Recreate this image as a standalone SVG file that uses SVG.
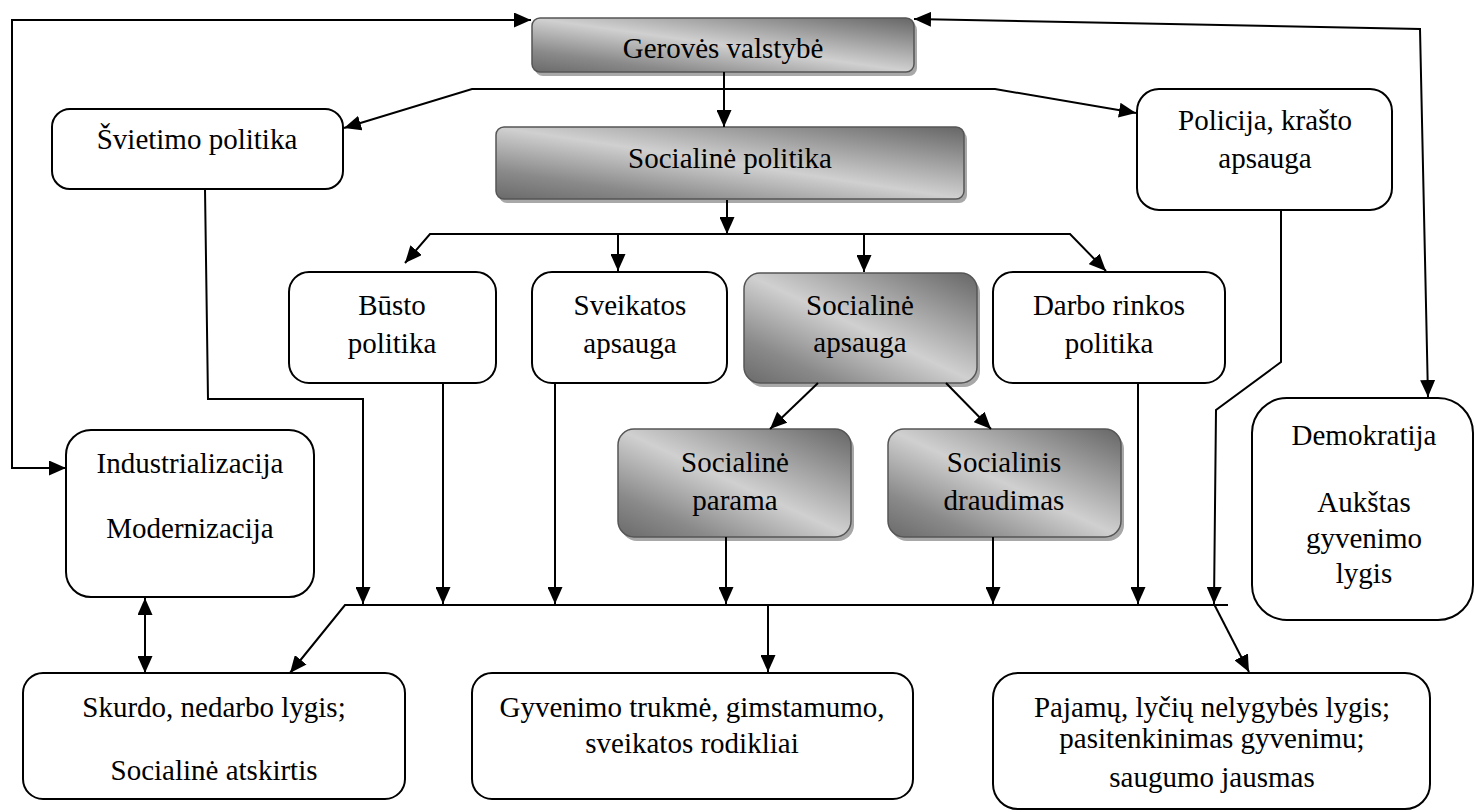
<svg xmlns="http://www.w3.org/2000/svg" width="1475" height="812" viewBox="0 0 1475 812">
<style>
.box{fill:#fff;stroke:#000;stroke-width:2}
.gbox{fill:url(#g);stroke:#555;stroke-width:1.5}
.sh{fill:#a8a8a8}
.c path{fill:none;stroke:#000;stroke-width:2}
text{font-family:"Times New Roman","Liberation Serif",serif;font-size:29px;text-anchor:middle;fill:#000}
</style>
<defs>
<linearGradient id="g" x1="1" y1="0" x2="0" y2="1">
<stop offset="0" stop-color="#666"/>
<stop offset="0.5" stop-color="#d0d0d0"/>
<stop offset="0.8" stop-color="#8a8a8a"/>
<stop offset="1" stop-color="#6a6a6a"/>
</linearGradient>
<marker id="a" viewBox="0 0 17 15" refX="17" refY="7.5" markerWidth="17" markerHeight="15" orient="auto-start-reverse" markerUnits="userSpaceOnUse">
<path d="M0,0 L17,7.5 L0,15 z" fill="#000"/>
</marker>
</defs>

<g id="gerove">
<rect class="sh" x="535" y="22" width="382" height="54" rx="8"/>
<rect class="gbox" x="532" y="18" width="382" height="54" rx="8"/>
<text x="723" y="58">Gerovės valstybė</text>
</g>
<g id="svietimo">
<rect class="box" x="52" y="109" width="291" height="80" rx="18"/>
<text x="197" y="149">Švietimo politika</text>
</g>
<g id="socpol">
<rect class="sh" x="499" y="131" width="468" height="72" rx="8"/>
<rect class="gbox" x="496" y="127" width="468" height="72" rx="8"/>
<text x="730" y="168">Socialinė politika</text>
</g>
<g id="policija">
<rect class="box" x="1137" y="89" width="255" height="121" rx="22"/>
<text x="1265" y="130">Policija, krašto</text>
<text x="1265" y="168">apsauga</text>
</g>
<g id="busto">
<rect class="box" x="289" y="272" width="207" height="111" rx="20"/>
<text x="392" y="315">Būsto</text>
<text x="392" y="353">politika</text>
</g>
<g id="sveikatos">
<rect class="box" x="532" y="272" width="195" height="111" rx="20"/>
<text x="630" y="315">Sveikatos</text>
<text x="630" y="353">apsauga</text>
</g>
<g id="socaps">
<rect class="sh" x="747" y="277" width="233" height="110" rx="16"/>
<rect class="gbox" x="744" y="273" width="233" height="110" rx="16"/>
<text x="860" y="315">Socialinė</text>
<text x="860" y="352">apsauga</text>
</g>
<g id="darbo">
<rect class="box" x="993" y="272" width="232" height="111" rx="20"/>
<text x="1109" y="315">Darbo rinkos</text>
<text x="1109" y="353">politika</text>
</g>
<g id="parama">
<rect class="sh" x="621" y="433" width="233" height="108" rx="16"/>
<rect class="gbox" x="618" y="429" width="233" height="108" rx="16"/>
<text x="735" y="472">Socialinė</text>
<text x="735" y="510">parama</text>
</g>
<g id="draudimas">
<rect class="sh" x="891" y="433" width="233" height="108" rx="16"/>
<rect class="gbox" x="888" y="429" width="233" height="108" rx="16"/>
<text x="1004" y="472">Socialinis</text>
<text x="1004" y="510">draudimas</text>
</g>
<g id="industrializacija">
<rect class="box" x="66" y="430" width="248" height="167" rx="25"/>
<text x="190" y="473">Industrializacija</text>
<text x="190" y="538">Modernizacija</text>
</g>
<g id="demokratija">
<rect class="box" x="1252" y="398" width="221" height="222" rx="35"/>
<text x="1364" y="445">Demokratija</text>
<text x="1364" y="512">Aukštas</text>
<text x="1364" y="548">gyvenimo</text>
<text x="1364" y="583">lygis</text>
</g>
<g id="skurdo">
<rect class="box" x="23" y="673" width="382" height="126" rx="20"/>
<text x="214" y="717">Skurdo, nedarbo lygis;</text>
<text x="214" y="780">Socialinė atskirtis</text>
</g>
<g id="gyvenimo">
<rect class="box" x="472" y="673" width="441" height="126" rx="20"/>
<text x="692" y="717">Gyvenimo trukmė, gimstamumo,</text>
<text x="692" y="753">sveikatos rodikliai</text>
</g>
<g id="pajamu">
<rect class="box" x="993" y="673" width="437" height="136" rx="25"/>
<text x="1212" y="717">Pajamų, lyčių nelygybės lygis;</text>
<text x="1212" y="748">pasitenkinimas gyvenimu;</text>
<text x="1212" y="787">saugumo jausmas</text>
</g>

<g id="connectors" class="c">
<path d="M531,20 L12,20 L12,468 L66,468" marker-start="url(#a)" marker-end="url(#a)"/>
<path d="M914,19 L1420,29 L1428,397" marker-start="url(#a)" marker-end="url(#a)"/>
<path d="M724,72 L724,127" marker-end="url(#a)"/>
<path d="M344,128 L472,89 L995,89 L1136,113" marker-start="url(#a)" marker-end="url(#a)"/>
<path d="M727,200 L727,234" marker-end="url(#a)"/>
<path d="M405,263 L430,234 L1070,234 L1106,271" marker-start="url(#a)" marker-end="url(#a)"/>
<path d="M618,234 L618,271" marker-end="url(#a)"/>
<path d="M864,234 L864,272" marker-end="url(#a)"/>
<path d="M818,383 L770,429" marker-end="url(#a)"/>
<path d="M946,383 L991,429" marker-end="url(#a)"/>
<path d="M205,189 L208,399 L363,399 L363,604" marker-end="url(#a)"/>
<path d="M443,383 L443,604" marker-end="url(#a)"/>
<path d="M555,383 L555,604" marker-end="url(#a)"/>
<path d="M726,537 L726,604" marker-end="url(#a)"/>
<path d="M993,537 L993,604" marker-end="url(#a)"/>
<path d="M1138,383 L1138,604" marker-end="url(#a)"/>
<path d="M1281,210 L1281,362 L1216,410 L1214,604" marker-end="url(#a)"/>
<path d="M1214,604 L1249,672" marker-end="url(#a)"/>
<path d="M290,673 L345,605 L1228,605" marker-start="url(#a)"/>
<path d="M768,605 L768,672" marker-end="url(#a)"/>
<path d="M145,598 L145,673" marker-start="url(#a)" marker-end="url(#a)"/>
</g>
</svg>
